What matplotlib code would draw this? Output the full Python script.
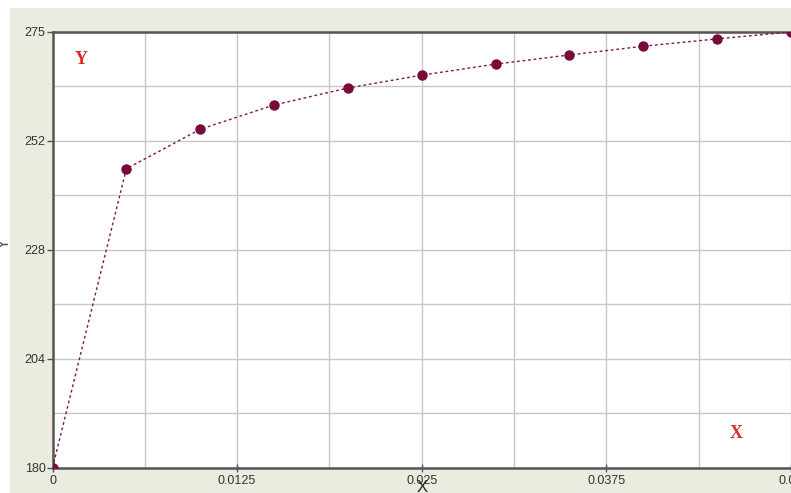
import matplotlib
matplotlib.use("Agg")
import matplotlib.pyplot as plt
from matplotlib.patches import Rectangle
from matplotlib.ticker import FixedLocator

# values
x_vals = [0.0, 0.005, 0.010, 0.015, 0.020, 0.025, 0.030, 0.035, 0.040, 0.045, 0.050]
y_vals = [180.0, 245.2, 253.8, 259.1, 262.8, 265.6, 268.0, 270.0, 271.9, 273.5, 275.0]

x_ticks = [0, 0.0125, 0.025, 0.0375, 0.05]
x_labels = ["0", "0.0125", "0.025", "0.0375", "0.05"]
x_minor = [0.00625, 0.01875, 0.03125, 0.04375]
y_ticks = [180, 203.75, 227.5, 251.25, 275]
y_labels = ["180", "204", "228", "252", "275"]
y_minor = [191.875, 215.625, 239.375, 263.125]

W, H = 791, 493
fig = plt.figure(figsize=(W / 100, H / 100), dpi=100, facecolor="white")

# beige panel behind the chart
bg = Rectangle((10 / W, 0), 1, (H - 8) / H, transform=fig.transFigure,
               facecolor="#ECEBDF", edgecolor="none", zorder=-10)
fig.add_artist(bg)

ax = fig.add_axes([52.5 / W, 25 / H, (W - 52.5) / W, 436 / H])
ax.set_zorder(1)
ax.set_facecolor("white")

ax.plot(x_vals, y_vals, linestyle=(0, (2, 2)), color="#7A1A45", linewidth=1.0,
        marker="o", markersize=6.5, markerfacecolor="#7A0A3A",
        markeredgecolor="#7A0A3A", zorder=3)

ax.set_xlim(0, 0.0495)
ax.set_ylim(180, 275)
ax.set_xticks(x_ticks)
ax.set_xticklabels(x_labels)
ax.set_yticks(y_ticks)
ax.set_yticklabels(y_labels)
ax.xaxis.set_minor_locator(FixedLocator(x_minor))
ax.yaxis.set_minor_locator(FixedLocator(y_minor))

ax.grid(which="both", color="#C8C8C8", linewidth=1.0)
ax.set_axisbelow(True)

ax.spines["right"].set_visible(False)
for side in ["left", "bottom", "top"]:
    ax.spines[side].set_color("#555555")
    ax.spines[side].set_linewidth(1.8)

ax.tick_params(axis="x", which="major", direction="inout", length=6, width=1,
               color="#555555", labelsize=9, labelcolor="#333333", pad=2)
ax.tick_params(axis="y", which="major", direction="out", length=4, width=1,
               color="#555555", labelsize=9, labelcolor="#333333", pad=1)
ax.tick_params(which="minor", length=0)
for lab in ax.get_xticklabels() + ax.get_yticklabels():
    lab.set_fontfamily("Liberation Sans")

# axis titles
fig.text(422 / W, 6 / H, "X", ha="center", va="center", fontsize=12,
         family="Liberation Sans", color="#222222", zorder=5)
fig.text(4 / W, 250 / H, "Y", ha="center", va="center", fontsize=12,
         family="Liberation Sans", color="#555555", rotation=90, zorder=5)

# red corner labels inside plot
ax.annotate("Y", xy=(81, H - 60), xycoords="figure pixels", ha="center", va="center",
            fontsize=13, family="Liberation Serif", fontweight="bold", color="#D42A2A")
ax.annotate("X", xy=(736, H - 434), xycoords="figure pixels", ha="center", va="center",
            fontsize=13, family="Liberation Serif", fontweight="bold", color="#D42A2A")

fig.savefig("out.png", dpi=100, facecolor=fig.get_facecolor())
